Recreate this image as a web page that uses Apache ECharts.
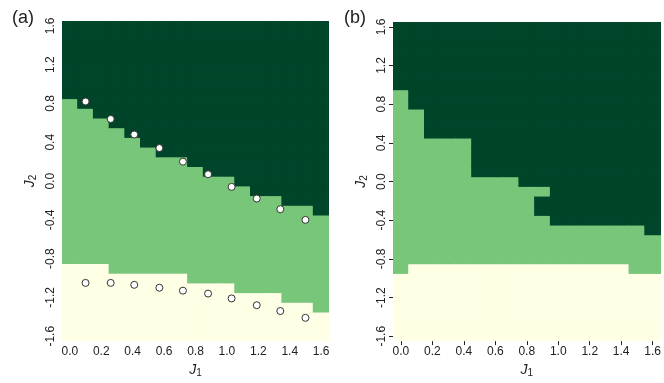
<!DOCTYPE html>
<html>
<head>
<meta charset="utf-8">
<script src="https://cdn.jsdelivr.net/npm/echarts@6/dist/echarts.min.js"></script>
<style>
  html, body { margin: 0; padding: 0; background: #fff; }
  #chart { width: 664px; height: 383px; }
</style>
</head>
<body>
<div id="chart"></div>
<script>
// grid cells: J1 = 0.0..1.6, J2 = -1.6..1.6, step 0.1
var j1Cells = ['0.0','0.1','0.2','0.3','0.4','0.5','0.6','0.7','0.8','0.9','1.0','1.1','1.2','1.3','1.4','1.5','1.6'];
var j2Cells = [];
for (var k = -16; k <= 16; k++) j2Cells.push((k / 10).toFixed(1));

var xTicks = ['0.0','0.2','0.4','0.6','0.8','1.0','1.2','1.4','1.6'];
var yTicks = ['-1.6','-1.2','-0.8','-0.4','0.0','0.4','0.8','1.2','1.6'];

// phase boundaries per J1 column (edge values of J2)
// (a)
var aUpper = [0.85, 0.75, 0.65, 0.55, 0.45, 0.35, 0.25, 0.25, 0.15, 0.05, 0.05, -0.05, -0.15, -0.15, -0.25, -0.25, -0.35];
var aLower = [-0.85, -0.85, -0.85, -0.95, -0.95, -0.95, -0.95, -0.95, -1.05, -1.05, -1.05, -1.15, -1.15, -1.15, -1.25, -1.25, -1.35];
// (b)
var bUpper = [0.95, 0.75, 0.45, 0.45, 0.45, 0.05, 0.05, 0.05, -0.05, -0.35, -0.45, -0.45, -0.45, -0.45, -0.45, -0.45, -0.55];
var bLower = [-0.95, -0.85, -0.85, -0.85, -0.85, -0.85, -0.85, -0.85, -0.85, -0.85, -0.85, -0.85, -0.85, -0.85, -0.85, -0.95, -0.95];
var bPocket = [['0.9', '-0.1']]; // green cell inside the dark region

// markers in (a)
var ptJ1 = [0.10, 0.26, 0.41, 0.57, 0.72, 0.88, 1.03, 1.19, 1.34, 1.50];
var ptUpper = [0.82, 0.64, 0.48, 0.34, 0.20, 0.07, -0.06, -0.18, -0.29, -0.40];
var ptLower = [-1.05, -1.05, -1.07, -1.10, -1.13, -1.16, -1.21, -1.28, -1.34, -1.41];

var phaseColors = ['#ffffe5', '#78c679', '#004529'];

function buildCells(upper, lower, pocket) {
    var res = [];
    for (var i = 0; i < j1Cells.length; i++) {
        for (var j = 0; j < j2Cells.length; j++) {
            var y = parseFloat(j2Cells[j]);
            var v = y > upper[i] ? 2 : (y > lower[i] ? 1 : 0);
            (pocket || []).forEach(function (p) {
                if (p[0] === j1Cells[i] && p[1] === j2Cells[j]) v = 1;
            });
            res.push([i, j, v]);
        }
    }
    return res;
}

function pairs(xs, ys) {
    return xs.map(function (x, i) { return [x, ys[i]]; });
}

// cell drawn as a rect, a bit bigger so no seams show
function renderCell(params, api) {
    var c = api.coord([api.value(0), api.value(1)]);
    var s = api.size([1, 1]);
    return {
        type: 'rect',
        shape: { x: c[0] - s[0] / 2 - 0.5, y: c[1] - s[1] / 2 - 0.5, width: s[0] + 1, height: s[1] + 1 },
        style: { fill: phaseColors[api.value(2)] }
    };
}

var font = 'Liberation Sans, Arial, sans-serif';
var nameRich = {
    i: { fontStyle: 'italic', fontSize: 14, fontFamily: font, color: '#222' },
    s: { fontSize: 10, fontFamily: font, color: '#222', verticalAlign: 'bottom', padding: [6, 0, 0, 0] }
};

function catX(gi) {
    return {
        gridIndex: gi, type: 'category', data: j1Cells,
        axisLine: { show: false },
        axisTick: { show: true, alignWithLabel: true, length: 4, lineStyle: { color: '#222' },
            interval: function (idx, val) { return xTicks.indexOf(val) >= 0; } },
        axisLabel: { fontSize: 12, fontFamily: font, color: '#222', margin: 5,
            interval: function (idx, val) { return xTicks.indexOf(val) >= 0; } },
        splitLine: { show: false },
        name: '{i|J}{s|1}', nameLocation: 'middle', nameGap: 20,
        nameTextStyle: { rich: nameRich }
    };
}
function catY(gi) {
    return {
        gridIndex: gi, type: 'category', data: j2Cells,
        axisLine: { show: false },
        axisTick: { show: true, alignWithLabel: true, length: 4, lineStyle: { color: '#222' },
            interval: function (idx, val) { return yTicks.indexOf(val) >= 0; } },
        axisLabel: { fontSize: 12, fontFamily: font, color: '#222', margin: 5, rotate: 90,
            interval: function (idx, val) { return yTicks.indexOf(val) >= 0; } },
        splitLine: { show: false },
        name: '{i|J}{s|2}', nameLocation: 'middle', nameGap: 24, nameRotate: 90,
        nameTextStyle: { rich: nameRich }
    };
}

var chart = echarts.init(document.getElementById('chart'));
chart.setOption({
    animation: false,
    title: [
        { text: '(a)', left: 7, top: 4, textStyle: { fontSize: 18, fontWeight: 'normal', fontFamily: font, color: '#222' } },
        { text: '(b)', left: 339, top: 4, textStyle: { fontSize: 18, fontWeight: 'normal', fontFamily: font, color: '#222' } }
    ],
    grid: [
        { left: 62, top: 21, width: 267, height: 326 },
        { left: 393, top: 22, width: 268, height: 326 }
    ],
    xAxis: [
        catX(0), catX(1),
        { gridIndex: 0, type: 'value', min: -0.05, max: 1.65, show: false }
    ],
    yAxis: [
        catY(0), catY(1),
        { gridIndex: 0, type: 'value', min: -1.65, max: 1.65, show: false }
    ],
    series: [
        {
            type: 'custom', xAxisIndex: 0, yAxisIndex: 0, clip: true,
            data: buildCells(aUpper, aLower), renderItem: renderCell
        },
        {
            type: 'scatter', xAxisIndex: 2, yAxisIndex: 2, z: 5,
            data: pairs(ptJ1, ptUpper), symbolSize: 7,
            itemStyle: { color: '#fff', borderColor: '#333', borderWidth: 1, opacity: 1 }
        },
        {
            type: 'scatter', xAxisIndex: 2, yAxisIndex: 2, z: 5,
            data: pairs(ptJ1, ptLower), symbolSize: 7,
            itemStyle: { color: '#fff', borderColor: '#333', borderWidth: 1, opacity: 1 }
        },
        {
            type: 'custom', xAxisIndex: 1, yAxisIndex: 1, clip: true,
            data: buildCells(bUpper, bLower, bPocket), renderItem: renderCell
        }
    ]
});
</script>
</body>
</html>
